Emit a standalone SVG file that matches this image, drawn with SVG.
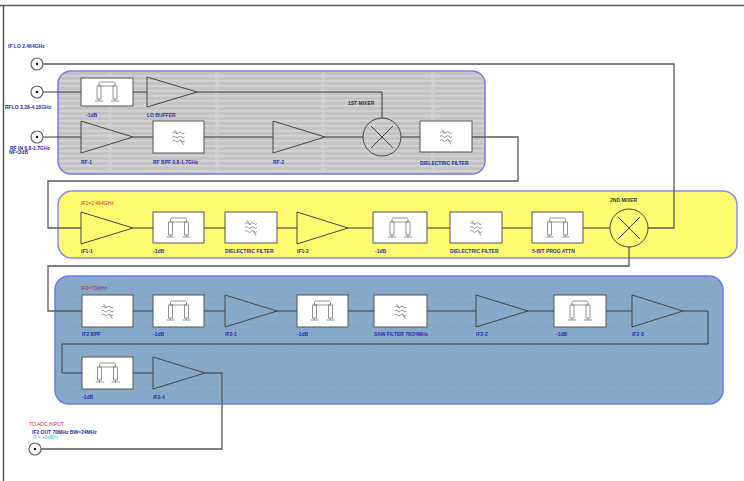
<svg xmlns="http://www.w3.org/2000/svg" width="744" height="481" viewBox="0 0 744 481">
<style>
.lbl{font-family:"Liberation Sans",Arial,sans-serif;font-size:5px;font-weight:bold;fill:#2a2aa8}
.mix{font-family:"Liberation Sans",Arial,sans-serif;font-size:5px;font-weight:bold;fill:#333}
.box{fill:#fff;stroke:#555;stroke-width:1}
.amp{fill:none;stroke:#444;stroke-width:1}
.mx{fill:none;stroke:#444;stroke-width:1}
.ic{fill:none;stroke:#7a7a7a;stroke-width:0.8}
.w{fill:none;stroke:#3a3a3a;stroke-width:1}
.ow{fill:none;stroke:#5a5a5a;stroke-width:1.3}
.con{fill:#fff;stroke:#666;stroke-width:1.2}
</style>
<defs>
<pattern id="stripe" patternUnits="userSpaceOnUse" width="10" height="5">
<rect width="10" height="5" fill="#c3c3c3"/>
<rect width="10" height="1.8" fill="#d3d3d3"/>
</pattern>
<g id="att">
<rect x="-8" y="-10" width="16" height="4" rx="1.5" class="ic"/>
<rect x="-10" y="-6" width="4" height="13" class="ic"/>
<rect x="6" y="-6" width="4" height="13" class="ic"/>
<path d="M-8,-8 v2 M8,-8 v2 M-8,7 v2 M8,7 v2 M-12,9 h8 M4,9 h8" class="ic"/>
</g>
<g id="flt">
<path d="M-6,-4 q1.5,-2 3,0 t3,0 t3,0 t3,0 M-6,0 q1.5,-2 3,0 t3,0 t3,0 t3,0 M-6,4 q1.5,-2 3,0 t3,0 t3,0 t3,0 M-4,-7 l3,4 M2,3 l3,5" class="ic"/>
</g>
<g id="cx">
<circle r="6" class="con"/>
<circle r="1.2" fill="#111"/>
</g>
</defs>
<rect width="744" height="481" fill="#fff"/>
<!-- frame -->
<path d="M0,5.5 H744 M3.5,5.5 V481" stroke="#555" stroke-width="1.5" fill="none"/>

<!-- panels -->
<g id="panel-rf">
<rect x="58" y="71" width="427" height="103" rx="13" fill="url(#stripe)"/>
<path d="M110,72 V173 M217,72 V173 M323,72 V173 M433,72 V173" stroke="#d2d2d2" stroke-width="4" opacity="0.7"/>
<rect x="58" y="71" width="427" height="103" rx="13" fill="none" stroke="#7878f0" stroke-width="1.5"/>
</g>
<g id="panel-if1">
<rect x="58" y="191" width="679" height="67" rx="14" fill="#fffb70" stroke="#8a8af0" stroke-width="1.5"/>
</g>
<g id="panel-if2">
<rect x="55" y="276" width="668" height="128" rx="14" fill="#86a9ca"/>
<path d="M68,300 H712 M68,322 H712 M68,347 H712 M68,360 H712 M68,388 H712" stroke="#9fbdd6" stroke-width="0.5" stroke-dasharray="3,2"/>
<rect x="55" y="276" width="668" height="128" rx="14" fill="none" stroke="#6a78f0" stroke-width="1.5"/>
</g>

<!-- connectors -->
<g id="connectors">
<path class="ow" d="M43,64 H674 V228 H648"/>
<path class="w" d="M43,92 H81 M133,92 H147 M197,92 H382 V118"/>
<path class="w" d="M43,137 H81 M133,137 H153 M204,137 H273 M325,137 H363 M401,137 H420"/>
<path class="ow" d="M472,137 H518 V181 H48 V228 H81"/>
<path class="w" d="M133,228 H153 M204,228 H225 M277,228 H297 M348,228 H373 M427,228 H450 M502,228 H532 M583,228 H610"/>
<path class="ow" d="M629,247 V266 H48 V311 H82"/>
<path class="w" d="M133,311 H153 M204,311 H225 M277,311 H297 M348,311 H374 M427,311 H476 M528,311 H554 M606,311 H632"/>
<path class="w" d="M683,311 H708 V344 H62 V373 H82 M133,373 H153"/>
<path class="ow" d="M205,373 H222 V449 H41"/>
</g>

<!-- ports -->
<g id="port-iflo"><use href="#cx" x="37" y="64"/><text class="lbl" x="8" y="48">IF LO 2.464GHz</text></g>
<g id="port-rflo"><use href="#cx" x="37" y="92"/><text class="lbl" x="5" y="109">RFLO 3.28-4.18GHz</text></g>
<g id="port-rfin"><use href="#cx" x="37" y="137"/><text class="lbl" x="10" y="149.5">RF IN 0.8-1.7GHz</text><text class="lbl" x="9" y="154">NF&lt;2dB</text></g>
<g id="port-out"><use href="#cx" x="35" y="449"/>
<text class="lbl" x="29" y="426" style="fill:#c02a62;font-weight:normal">TO ADC INPUT</text>
<text class="lbl" x="32" y="434">IF2 OUT 70MHz BW=24MHz</text>
<text class="lbl" x="33" y="438.5" style="fill:#2cc0e6;font-weight:normal">P = +0dBm</text></g>

<!-- RF panel nodes -->
<g id="att-lo"><rect class="box" x="81" y="78" width="52" height="28"/><use href="#att" x="107" y="92"/><text class="lbl" x="86" y="117">-1dB</text></g>
<g id="lo-buffer"><polygon class="amp" points="147,77 147,107 197,92"/><text class="lbl" x="147" y="117">LO BUFFER</text></g>
<g id="rf1"><polygon class="amp" points="81,121 81,153 133,137"/><text class="lbl" x="81" y="164">RF-1</text></g>
<g id="rf-bpf"><rect class="box" x="153" y="121" width="51" height="32"/><use href="#flt" x="178.5" y="137"/><text class="lbl" x="153" y="164">RF BPF 0.8-1.7GHz</text></g>
<g id="rf2"><polygon class="amp" points="273,121 273,153 325,137"/><text class="lbl" x="273" y="164">RF-2</text></g>
<g id="mixer1"><circle class="mx" cx="382" cy="137" r="19"/><path class="mx" d="M371,126 L393,148 M393,126 L371,148"/><text class="mix" x="348" y="105">1ST MIXER</text></g>
<g id="diel1"><rect class="box" x="420" y="121" width="52" height="31"/><use href="#flt" x="446" y="136.5"/><text class="lbl" x="420" y="165">DIELECTRIC FILTER</text></g>

<!-- IF1 panel nodes -->
<text class="lbl" x="81" y="205" style="fill:#d02a2a;font-weight:normal">IF1=2.464GHz</text>
<g id="if1-1"><polygon class="amp" points="81,212 81,244 133,228"/><text class="lbl" x="81" y="253">IF1-1</text></g>
<g id="att-if1a"><rect class="box" x="153" y="212" width="51" height="31"/><use href="#att" x="178.5" y="228"/><text class="lbl" x="153" y="253">-1dB</text></g>
<g id="diel2"><rect class="box" x="225" y="212" width="52" height="31"/><use href="#flt" x="251" y="227.5"/><text class="lbl" x="225" y="253">DIELECTRIC FILTER</text></g>
<g id="if1-2"><polygon class="amp" points="297,212 297,244 348,228"/><text class="lbl" x="297" y="253">IF1-2</text></g>
<g id="att-if1b"><rect class="box" x="373" y="212" width="54" height="31"/><use href="#att" x="400" y="228"/><text class="lbl" x="375" y="253">-1dB</text></g>
<g id="diel3"><rect class="box" x="450" y="212" width="52" height="31"/><use href="#flt" x="476" y="227.5"/><text class="lbl" x="450" y="253">DIELECTRIC FILTER</text></g>
<g id="prog-attn"><rect class="box" x="532" y="212" width="51" height="31"/><use href="#att" x="557.5" y="228"/><text class="lbl" x="532" y="253">5-BIT PROG ATTN</text></g>
<g id="mixer2"><circle class="mx" cx="629" cy="228" r="19"/><path class="mx" d="M618,217 L640,239 M640,217 L618,239"/><text class="mix" x="610" y="202">2ND MIXER</text></g>

<!-- IF2 panel nodes -->
<text class="lbl" x="81" y="290" style="fill:#a0205e;font-weight:normal">IF2=70MHz</text>
<g id="if2-bpf"><rect class="box" x="82" y="295" width="51" height="32"/><use href="#flt" x="107.5" y="311"/><text class="lbl" x="82" y="336">IF2 BPF</text></g>
<g id="att-if2a"><rect class="box" x="153" y="295" width="51" height="32"/><use href="#att" x="178.5" y="311"/><text class="lbl" x="153" y="336">-1dB</text></g>
<g id="if2-1"><polygon class="amp" points="225,295 225,327 277,311"/><text class="lbl" x="225" y="336">IF2-1</text></g>
<g id="att-if2b"><rect class="box" x="297" y="295" width="51" height="32"/><use href="#att" x="322.5" y="311"/><text class="lbl" x="297" y="336">-1dB</text></g>
<g id="saw"><rect class="box" x="374" y="295" width="53" height="32"/><use href="#flt" x="400.5" y="311"/><text class="lbl" x="374" y="336">SAW FILTER 70/24MHz</text></g>
<g id="if2-2"><polygon class="amp" points="476,295 476,327 528,311"/><text class="lbl" x="476" y="336">IF2-2</text></g>
<g id="att-if2c"><rect class="box" x="554" y="295" width="52" height="32"/><use href="#att" x="580" y="311"/><text class="lbl" x="556" y="336">-1dB</text></g>
<g id="if2-3"><polygon class="amp" points="632,295 632,327 683,311"/><text class="lbl" x="632" y="336">IF2-3</text></g>
<g id="att-if2d"><rect class="box" x="82" y="357" width="51" height="32"/><use href="#att" x="107.5" y="373"/><text class="lbl" x="82" y="399">-1dB</text></g>
<g id="if2-4"><polygon class="amp" points="153,357 153,389 205,373"/><text class="lbl" x="153" y="399">IF2-4</text></g>
</svg>
